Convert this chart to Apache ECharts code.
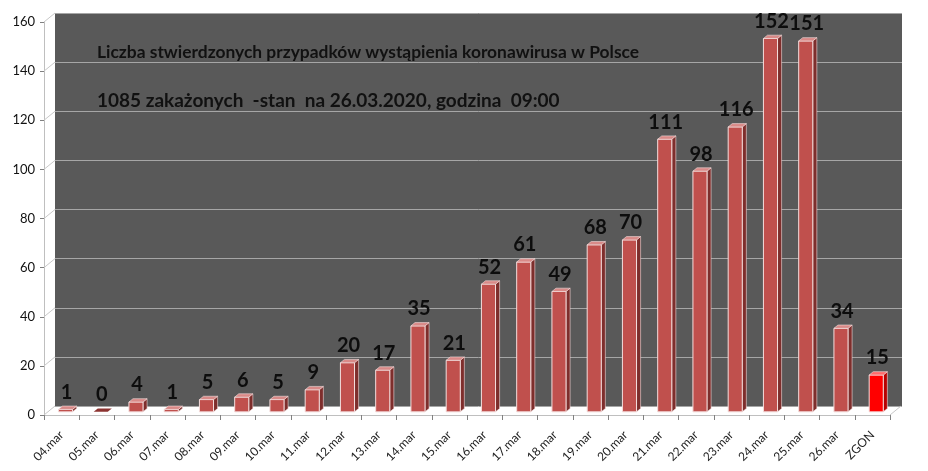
<!DOCTYPE html>
<html>
<head>
<meta charset="utf-8">
<script src="https://cdn.jsdelivr.net/npm/echarts@6/dist/echarts.min.js"></script>
<style>
  html, body { margin: 0; padding: 0; background: #ffffff; }
  #chart { width: 928px; height: 471px; }
</style>
</head>
<body>
<div id="chart"></div>
<script>
// dane z wykresu
var categories = ['04.mar', '05.mar', '06.mar', '07.mar', '08.mar', '09.mar', '10.mar', '11.mar',
  '12.mar', '13.mar', '14.mar', '15.mar', '16.mar', '17.mar', '18.mar', '19.mar', '20.mar',
  '21.mar', '22.mar', '23.mar', '24.mar', '25.mar', '26.mar', 'ZGON'];
var cases = [1, 0, 4, 1, 5, 6, 5, 9, 20, 17, 35, 21, 52, 61, 49, 68, 70, 111, 98, 116, 152, 151, 34, 15];
var yTicks = [0, 20, 40, 60, 80, 100, 120, 140, 160];
var titleLine1 = 'Liczba stwierdzonych przypadków wystąpienia koronawirusa w Polsce';
var titleLine2 = '1085 zakażonych  -stan  na 26.03.2020, godzina  09:00';

// przesunięcie głębi (ściana tylna względem osi przedniej)
var DX = 11, DY = -9;
var FONT = 'Lato, "Open Sans", sans-serif';

function renderBar(params, api) {
  var i = api.value(0);
  var v = api.value(1);
  var base = api.coord([i, 0]);
  var top = api.coord([i, v]);
  var bw = api.size([1, 0])[0] * 0.4;
  var fx = base[0] - bw / 2 + DX * 0.35;
  var fyBottom = base[1] + DY * 0.35;
  var fyTop = top[1] + DY * 0.35;
  var ddx = DX * 0.37, ddy = DY * 0.37;
  var isDeath = categories[i] === 'ZGON';
  var cFront = isDeath ? '#ff0000' : '#c0504d';
  var cSide = isDeath ? '#b80000' : '#7e2e2c';
  var cTop = isDeath ? '#ff6a6a' : '#d98a88';
  var edge = '#f4dedd';
  var children = [];
  if (fyBottom - fyTop > 0.5) {
    children.push({
      type: 'polygon',
      shape: { points: [[fx + bw, fyTop], [fx + bw + ddx, fyTop + ddy], [fx + bw + ddx, fyBottom + ddy], [fx + bw, fyBottom]] },
      style: { fill: cSide, stroke: edge, lineWidth: 0.6 }
    });
    children.push({
      type: 'rect',
      shape: { x: fx, y: fyTop, width: bw, height: fyBottom - fyTop },
      style: { fill: cFront, stroke: edge, lineWidth: 1 }
    });
  }
  children.push({
    type: 'polygon',
    shape: { points: [[fx, fyTop], [fx + ddx, fyTop + ddy], [fx + bw + ddx, fyTop + ddy], [fx + bw, fyTop]] },
    style: { fill: v === 0 ? '#8c3331' : cTop, stroke: v === 0 ? null : edge, lineWidth: 0.6 }
  });
  children.push({
    type: 'text',
    style: {
      text: String(v),
      x: fx + bw / 2 + 1,
      y: fyTop - 7,
      align: 'center',
      verticalAlign: 'bottom',
      fill: '#0d0d0d',
      font: 'bold 20px ' + FONT
    }
  });
  return { type: 'group', children: children };
}

function renderWall(params, api) {
  var v = api.value(0);
  var p = api.coord([0, v]);
  var half = api.size([1, 0])[0] / 2;
  var x0 = p[0] - half;
  var lines = [{
    type: 'line',
    shape: { x1: x0, y1: p[1], x2: x0 + DX, y2: p[1] + DY },
    style: { stroke: '#c8c8c8', lineWidth: 1 }
  }];
  if (v === 0) {
    var q = api.coord([categories.length - 1, 0]);
    var x1 = q[0] + half;
    lines.push({
      type: 'line',
      shape: { x1: x1, y1: q[1], x2: x1 + DX, y2: q[1] + DY },
      style: { stroke: '#c8c8c8', lineWidth: 1 }
    });
  }
  return { type: 'group', children: lines };
}

var myChart = echarts.init(document.getElementById('chart'));
var option = {
  backgroundColor: '#ffffff',
  animation: false,
  title: [
    {
      text: titleLine1, left: 97, top: 44, padding: 0,
      textStyle: { fontFamily: FONT, fontWeight: 'bold', fontSize: 17.4, color: '#111111' }
    },
    {
      text: titleLine2, left: 97, top: 91, padding: 0,
      textStyle: { fontFamily: FONT, fontWeight: 'bold', fontSize: 19, color: '#111111' }
    }
  ],
  grid: [
    { left: 44, top: 22, width: 846, height: 393, show: false },
    { left: 55, top: 13, width: 847, height: 393, show: true, backgroundColor: '#595959', borderWidth: 0 }
  ],
  xAxis: [
    {
      type: 'category', gridIndex: 0, data: categories,
      axisLine: { lineStyle: { color: '#bfbfbf' } },
      axisTick: { show: true, length: 5, lineStyle: { color: '#808080' } },
      axisLabel: { rotate: 45, margin: 18, fontSize: 12, fontFamily: FONT, color: '#222222', interval: 0 }
    },
    {
      type: 'category', gridIndex: 1, data: categories,
      axisLine: { show: false },
      axisTick: { show: false },
      axisLabel: { show: false }
    }
  ],
  yAxis: [
    {
      type: 'value', gridIndex: 0, min: 0, max: 160, interval: 20,
      axisLine: { show: true, lineStyle: { color: '#bfbfbf' } },
      axisTick: { show: true, length: 4, lineStyle: { color: '#808080' } },
      axisLabel: { fontSize: 13, fontFamily: FONT, color: '#111111', margin: 9 },
      splitLine: { show: false }
    },
    {
      type: 'value', gridIndex: 1, min: 0, max: 160, interval: 20,
      axisLine: { show: false },
      axisTick: { show: false },
      axisLabel: { show: false },
      splitLine: { show: true, lineStyle: { color: '#a6a6a6', width: 1 } }
    }
  ],
  series: [
    {
      type: 'custom', name: 'sciana', xAxisIndex: 0, yAxisIndex: 0,
      renderItem: renderWall,
      data: yTicks.map(function (t) { return [t]; }),
      encode: { y: 0 },
      silent: true, z: 1
    },
    {
      type: 'custom', name: 'przypadki', xAxisIndex: 0, yAxisIndex: 0,
      renderItem: renderBar,
      data: cases.map(function (v, i) { return [i, v]; }),
      encode: { x: 0, y: 1 },
      z: 3
    }
  ]
};
myChart.setOption(option);
</script>
</body>
</html>
